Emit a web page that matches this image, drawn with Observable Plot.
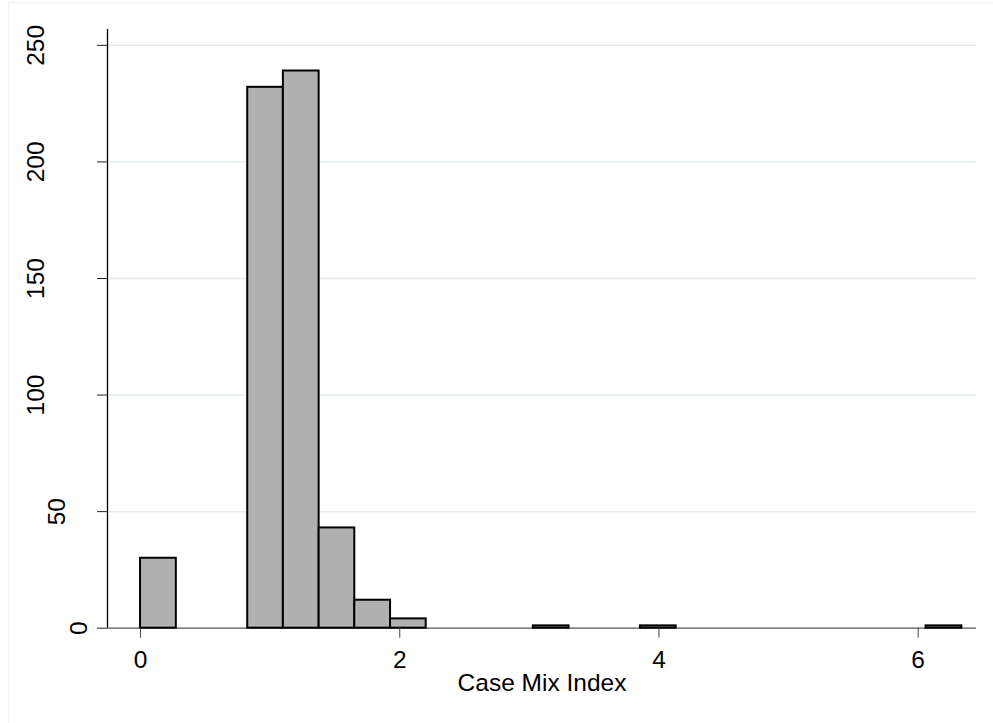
<!DOCTYPE html>
<html><head><meta charset="utf-8">
<script src="https://cdn.jsdelivr.net/npm/d3@7"></script>
<script src="https://cdn.jsdelivr.net/npm/@observablehq/plot@0.6"></script>
<style>
html,body{margin:0;padding:0;background:#fff;}
#wrap{position:relative;width:993px;height:723px;overflow:hidden;}
#border{position:absolute;left:8px;top:2px;right:-10px;bottom:-10px;border-left:1.5px solid #edf2f4;border-top:1.5px solid #edf2f4;pointer-events:none;}
svg{display:block;}
</style></head><body>
<div id="wrap"><div id="border"></div></div>
<script>
// Histogram bins (non-empty)
const binLower = [0.000, 0.827, 1.102, 1.378, 1.653, 1.929, 3.031, 3.857, 6.061];
const binUpper = [0.276, 1.102, 1.378, 1.653, 1.929, 2.204, 3.306, 4.133, 6.337];
const counts   = [30, 232, 239, 43, 12, 4, 1, 1, 1];
const xTicks = [0, 2, 4, 6];
const yTicks = [0, 50, 100, 150, 200, 250];
const xTitle = "Case Mix Index";

const bins = counts.map((c, i) => ({x1: binLower[i], x2: binUpper[i], count: c}));
const xDomain = [-0.255, 6.45];
const yDomain = [0, 256.8];
const fs = 24.5;
const font = 'Arial, "Liberation Sans", Helvetica, sans-serif';

// rotated y tick labels, offset by label length (as in the reference)
const yGroups = d3.groups(yTicks, d => String(d).length);
const yLabels = yGroups.map(([len, ticks]) => Plot.text(ticks, {
  y: d => d, text: d => String(d), frameAnchor: "left",
  dx: -(21 + 21.5 * (len - 1)), rotate: -90,
  textAnchor: "middle", lineAnchor: "bottom", fontSize: fs, fill: "#000"
}));

const chart = Plot.plot({
  width: 993,
  height: 723,
  marginLeft: 107,
  marginRight: 17,
  marginTop: 29,
  marginBottom: 95.3,
  style: {fontFamily: font, fontSize: fs + "px", background: "transparent", color: "#000"},
  x: {domain: xDomain},
  y: {domain: yDomain},
  marks: [
    Plot.gridY(yTicks.slice(1), {stroke: "#e3ecef", strokeOpacity: 1, strokeWidth: 1.5}),
    Plot.ruleY([0], {stroke: "#555", strokeWidth: 1.2}),
    Plot.ruleX([xDomain[0]], {stroke: "#000", strokeWidth: 1.3}),
    Plot.rectY(bins, {x1: "x1", x2: "x2", y: "count", fill: "#b0b0b0", stroke: "#000", strokeWidth: 2}),
    Plot.axisY({ticks: yTicks, tickSize: 10, tickFormat: () => "", stroke: "#222", label: null}),
    ...yLabels,
    Plot.axisX({ticks: xTicks, tickSize: 10, tickPadding: 12, tickFormat: d3.format("d"), fontSize: fs, stroke: "#444", fill: "#000", label: null}),
    Plot.text([xTitle], {text: d => d, frameAnchor: "bottom", dy: 63, lineAnchor: "bottom", fontSize: fs, fill: "#000"})
  ]
});
document.getElementById("wrap").prepend(chart);
</script>
</body></html>
